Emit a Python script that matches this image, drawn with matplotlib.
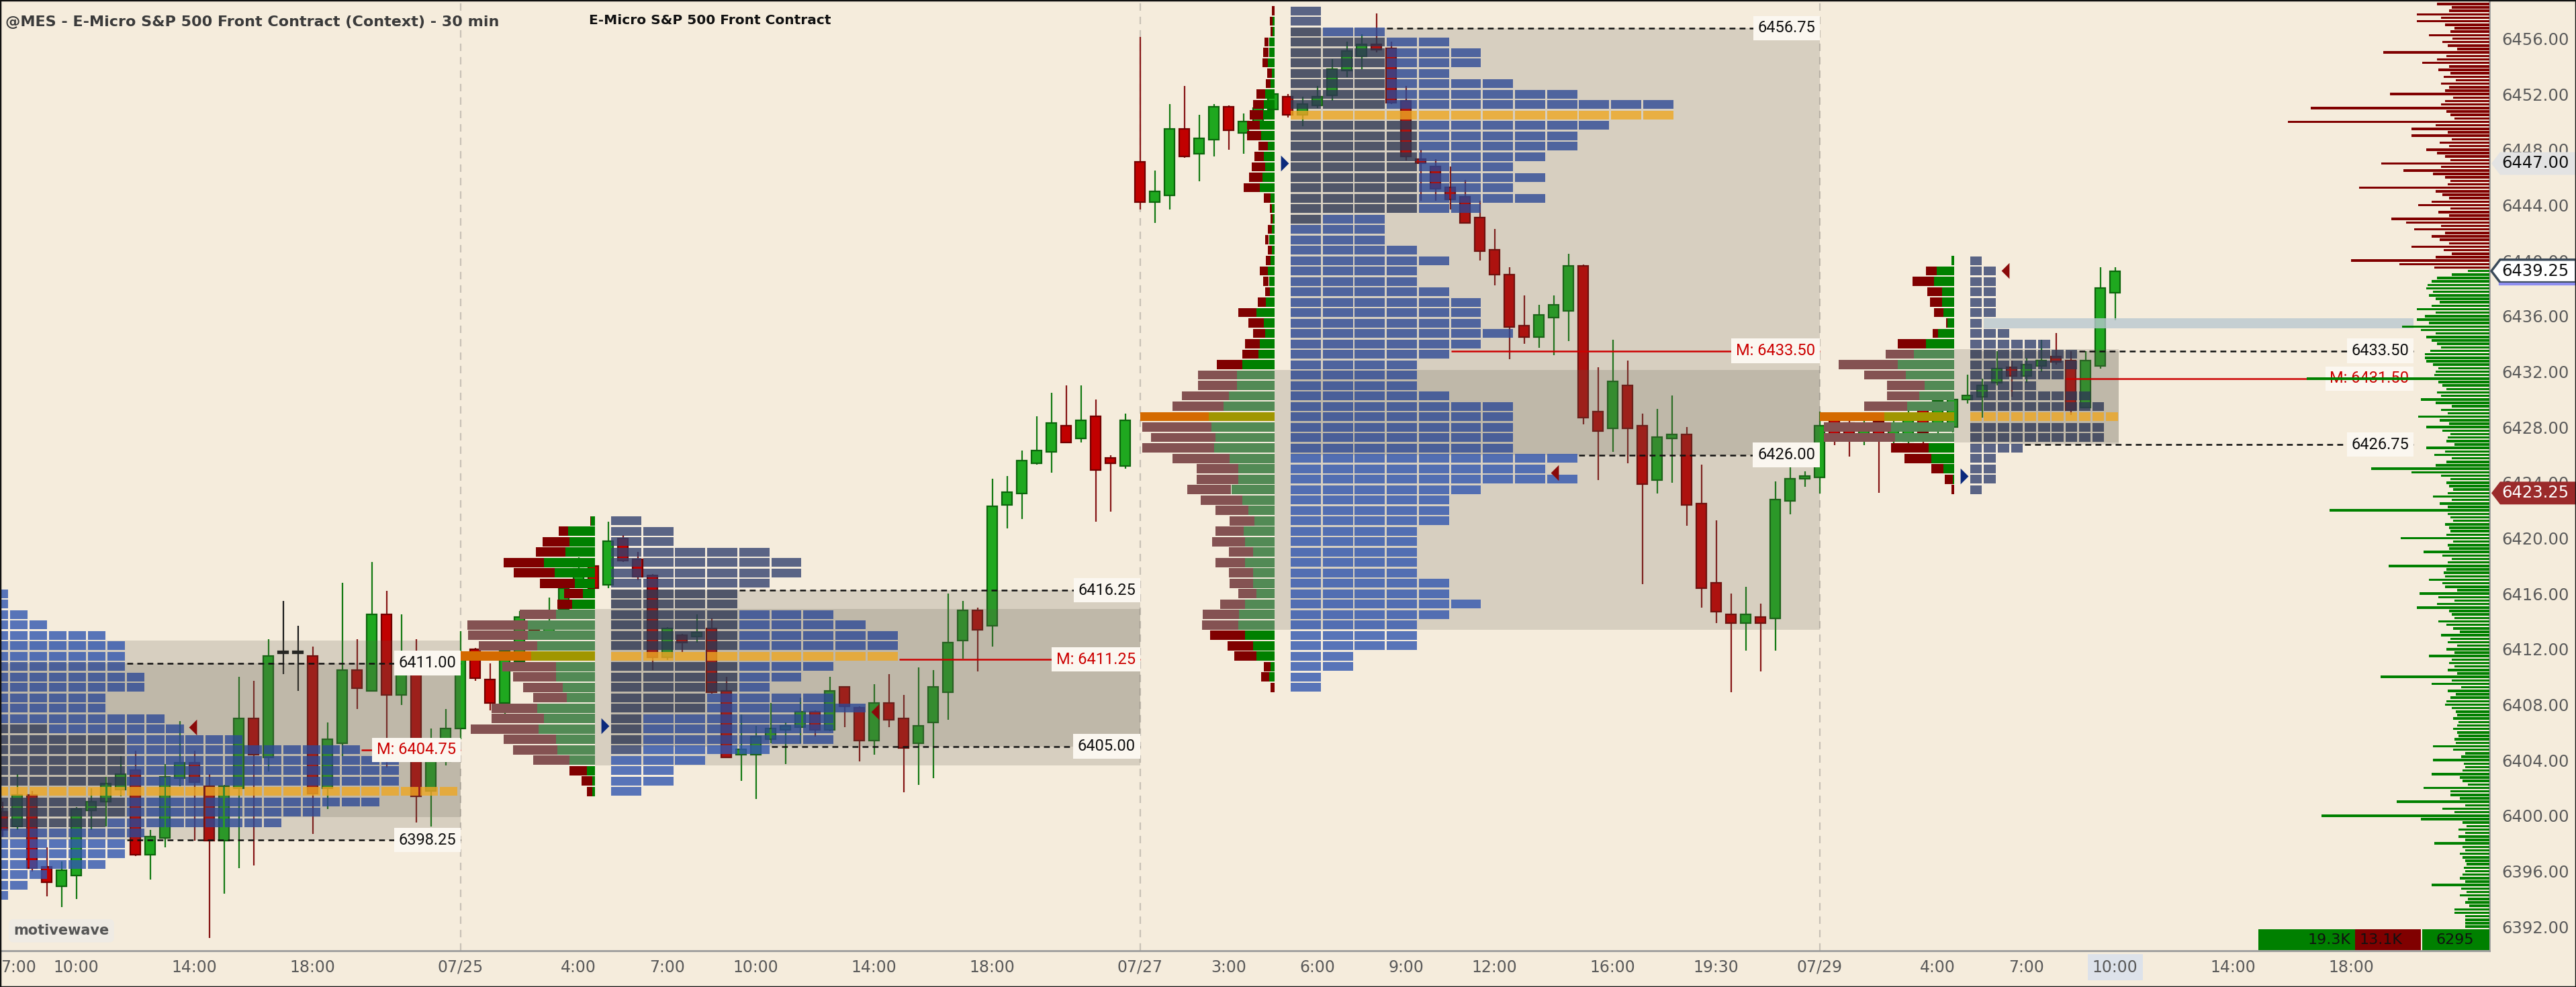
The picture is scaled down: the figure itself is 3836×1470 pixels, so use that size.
import numpy as np
import matplotlib
matplotlib.use("Agg")
import matplotlib.pyplot as plt
import matplotlib.transforms as mtransforms
from matplotlib.patches import Rectangle, Polygon
from matplotlib.path import Path

# ---------------- data ----------------
symbol_title = "@MES - E-Micro S&P 500 Front Contract (Context) - 30 min"
study_title = "E-Micro S&P 500 Front Contract"

session_dates = ["07/24", "07/25", "07/27", "07/29"]
bars_per_session = 46          # 00:00 .. 22:30, 30 min bars
first_bar_time = (0, "7:30")   # first visible candle

opens = [6400.3, 6399.2, 6401.5, 6396.3, 6394.9,
         6395.7, 6400.4, 6401.0, 6401.9, 6403.3, 6397.2, 6398.4, 6402.7, 6403.8, 6402.1,
         6398.2, 6402.0, 6407.0, 6404.2, 6411.7, 6411.7, 6411.5, 6402.0, 6405.2, 6410.5,
         6409.0, 6414.5, 6408.7, 6410.5, 6401.8, 6403.9, 6406.3, 6412.0, 6409.8, 6408.1,
         6411.1, 6413.9, 6412.9, 6414.9, 6417.0, 6418.0, 6416.65, 6420.0, 6418.5, 6417.3,
         6411.4, 6413.0, 6412.9, 6413.5, 6409.0, 6404.4, 6404.4, 6405.5, 6406.2, 6406.4,
         6407.5, 6406.2, 6409.3, 6407.8, 6405.4, 6408.1, 6407.0, 6405.2, 6406.7, 6408.9,
         6412.6, 6414.8, 6413.7, 6422.4, 6423.2, 6425.4, 6426.2, 6428.1, 6427.2, 6428.8,
         6425.8, 6425.2, 6447.1, 6444.2, 6444.7, 6449.5, 6447.7, 6448.7, 6451.1, 6449.2,
         6450.0, 6450.9, 6451.8, 6450.5, 6451.2, 6451.9, 6453.7, 6454.7, 6455.6, 6455.3,
         6451.5, 6447.3, 6446.8, 6445.3, 6444.6, 6443.1, 6440.8, 6439.0, 6435.3, 6434.5,
         6435.9, 6436.4, 6439.6, 6429.1, 6427.9, 6431.0, 6428.1, 6424.2, 6427.2, 6427.5,
         6422.5, 6416.8, 6414.5, 6413.9, 6414.3, 6414.2, 6422.7, 6424.3, 6424.4, 6428.5,
         6428.3, 6427.3, 6428.4, 6427.5, 6427.0, 6429.2, 6427.8, 6428.0, 6430.0, 6430.2,
         6431.2, 6432.3, 6431.7, 6432.4, 6433.1, 6432.8, 6429.4, 6432.4, 6437.7]
highs = [6401.0, 6403.0, 6401.8, 6397.7, 6396.7,
         6400.6, 6402.0, 6402.8, 6404.3, 6404.7, 6399.0, 6403.7, 6406.8, 6404.7, 6403.0,
         6402.2, 6410.0, 6409.7, 6412.7, 6415.5, 6413.7, 6412.2, 6406.7, 6416.8, 6412.7,
         6418.3, 6416.2, 6414.5, 6412.7, 6406.3, 6407.7, 6413.3, 6412.1, 6411.0, 6412.2,
         6414.75, 6414.0, 6415.7, 6417.0, 6418.6, 6418.1, 6421.2, 6420.2, 6419.0, 6417.4,
         6413.6, 6413.1, 6414.5, 6414.2, 6410.0, 6407.3, 6406.5, 6408.1, 6406.7, 6408.5,
         6407.6, 6410.0, 6409.3, 6407.9, 6409.5, 6410.2, 6408.7, 6410.7, 6410.5, 6416.0,
         6415.5, 6415.0, 6424.3, 6424.5, 6426.3, 6428.8, 6430.5, 6431.0, 6431.0, 6430.0,
         6426.0, 6429.0, 6456.1, 6446.5, 6451.3, 6452.6, 6450.5, 6451.3, 6451.2, 6450.6,
         6451.4, 6452.2, 6452.0, 6451.8, 6452.6, 6454.5, 6455.8, 6456.3, 6457.8, 6455.8,
         6452.6, 6448.0, 6447.3, 6446.8, 6445.8, 6444.3, 6442.3, 6439.5, 6437.5, 6436.8,
         6437.5, 6440.5, 6439.7, 6432.3, 6434.3, 6432.8, 6429.0, 6429.3, 6430.3, 6428.0,
         6425.3, 6421.3, 6416.0, 6416.5, 6415.3, 6424.1, 6425.2, 6424.8, 6429.1, 6428.9,
         6428.6, 6428.6, 6428.7, 6428.6, 6429.6, 6429.8, 6430.2, 6430.4, 6431.8, 6431.5,
         6433.5, 6432.8, 6433.0, 6434.3, 6434.8, 6433.5, 6433.5, 6439.5, 6439.5]
lows = [6398.5, 6399.0, 6396.0, 6394.2, 6393.4,
        6394.0, 6399.0, 6399.2, 6401.4, 6397.1, 6395.4, 6397.7, 6402.1, 6398.2, 6391.2,
        6394.4, 6396.2, 6396.4, 6403.2, 6410.2, 6409.0, 6398.7, 6400.5, 6404.3, 6407.7,
        6409.0, 6403.5, 6408.0, 6399.5, 6399.2, 6403.6, 6405.5, 6409.7, 6407.6, 6407.3,
        6410.6, 6412.9, 6412.8, 6414.6, 6416.8, 6416.3, 6416.4, 6418.3, 6417.0, 6410.5,
        6411.2, 6411.8, 6412.5, 6408.8, 6404.2, 6402.5, 6401.2, 6405.2, 6403.7, 6405.2,
        6405.7, 6406.1, 6406.4, 6403.9, 6404.4, 6406.4, 6401.7, 6402.2, 6402.7, 6406.9,
        6411.3, 6410.4, 6412.2, 6420.7, 6421.4, 6425.3, 6424.7, 6426.9, 6426.9, 6421.2,
        6421.9, 6425.0, 6443.7, 6442.7, 6443.7, 6447.4, 6445.7, 6447.5, 6448.0, 6447.7,
        6449.6, 6450.6, 6450.3, 6449.7, 6451.0, 6451.5, 6453.2, 6453.8, 6455.0, 6451.3,
        6447.2, 6444.3, 6444.3, 6443.7, 6442.7, 6440.0, 6438.2, 6432.9, 6434.0, 6433.7,
        6433.2, 6434.2, 6428.2, 6424.2, 6426.2, 6425.4, 6416.7, 6423.2, 6424.0, 6420.9,
        6415.0, 6413.9, 6408.9, 6411.9, 6410.4, 6411.9, 6421.7, 6423.7, 6423.2, 6426.7,
        6425.9, 6426.7, 6423.25, 6426.8, 6426.8, 6426.8, 6427.0, 6427.6, 6429.7, 6428.7,
        6431.0, 6430.2, 6431.2, 6432.0, 6432.5, 6428.9, 6429.4, 6432.2, 6435.7]
closes = [6399.0, 6401.5, 6396.2, 6395.2, 6396.1,
          6400.5, 6401.0, 6402.3, 6403.0, 6397.2, 6398.5, 6402.8, 6403.8, 6402.4, 6398.2,
          6402.1, 6407.0, 6404.4, 6411.5, 6411.7, 6411.7, 6401.6, 6405.5, 6410.5, 6409.2,
          6414.5, 6408.7, 6410.5, 6401.4, 6403.9, 6406.3, 6411.6, 6409.9, 6408.1, 6411.9,
          6414.3, 6413.4, 6413.6, 6416.4, 6417.8, 6416.4, 6419.8, 6418.4, 6417.2, 6411.4,
          6413.5, 6412.5, 6413.2, 6408.9, 6404.2, 6404.8, 6405.7, 6406.3, 6406.5, 6407.5,
          6406.2, 6409.0, 6407.9, 6405.4, 6408.1, 6406.9, 6404.9, 6406.5, 6409.3, 6412.5,
          6414.8, 6413.4, 6422.3, 6423.3, 6425.6, 6426.3, 6428.3, 6426.9, 6428.5, 6424.9,
          6425.4, 6428.5, 6444.2, 6445.0, 6449.5, 6447.5, 6448.8, 6451.1, 6449.4, 6450.0,
          6451.0, 6452.0, 6450.5, 6451.3, 6451.8, 6453.8, 6455.1, 6455.6, 6455.2, 6451.4,
          6447.5, 6447.0, 6445.2, 6444.4, 6442.7, 6440.7, 6439.0, 6435.2, 6434.5, 6436.1,
          6436.8, 6439.6, 6428.7, 6427.7, 6431.3, 6427.9, 6423.9, 6427.3, 6427.5, 6422.4,
          6416.4, 6414.7, 6413.9, 6414.5, 6413.9, 6422.8, 6424.3, 6424.5, 6428.1, 6427.5,
          6427.3, 6428.2, 6427.2, 6428.0, 6429.0, 6427.6, 6429.9, 6430.0, 6430.3, 6431.0,
          6432.2, 6431.7, 6432.5, 6432.8, 6432.7, 6429.2, 6432.8, 6438.0, 6439.25]

# time axis labels (session, time); "0:00" shows the session date
tick_times = [(0, "7:00"), (0, "10:00"), (0, "14:00"), (0, "18:00"),
              (1, "0:00"), (1, "4:00"), (1, "7:00"), (1, "10:00"), (1, "14:00"), (1, "18:00"),
              (2, "0:00"), (2, "3:00"), (2, "6:00"), (2, "9:00"), (2, "12:00"), (2, "16:00"), (2, "19:30"),
              (3, "0:00"), (3, "4:00"), (3, "7:00"), (3, "10:00"), (3, "14:00"), (3, "18:00")]

# TPO profiles (rows of 0.75 pt, listed from the top row down)
tpo_top = [6416.0, 6421.25, 6458.0, 6440.0]
tpo_counts = [
    [4, 4, 5, 6, 9, 10, 10, 10, 11, 11, 9, 9, 12, 13, 16, 22, 24, 24, 24, 27, 23, 20, 18, 11, 10, 10, 9, 6, 5, 4],
    [1, 2, 2, 5, 6, 6, 5, 4, 4, 7, 8, 9, 9, 9, 7, 6, 5, 7, 8, 7, 7, 7, 5, 3, 2, 2, 1],
    [1, 1, 3, 5, 6, 6, 5, 7, 9, 12, 12, 10, 9, 9, 8, 7, 8, 7, 8, 6,
     3, 3, 3, 4, 5, 4, 4, 5, 6, 6, 6, 7, 6, 5, 4, 4, 4, 5, 7, 7,
     7, 7, 7, 9, 8, 9, 6, 5, 5, 5, 4, 4, 4, 4, 4, 5, 5, 6, 5, 4, 4, 4, 2, 2, 1, 1],
    [1, 2, 2, 2, 2, 2, 1, 3, 6, 8, 8, 7, 5, 9, 10, 11, 10, 10, 4, 2, 2, 2, 1],
]
# overnight (ETH) periods per row
tpo_eth = [
    [3] * 13 + [6, 10, 10, 10, 10, 10, 0, 10, 10, 9] + [3] * 7,
    [1, 2, 2, 5, 6, 6, 5, 4, 4, 4, 4, 4, 4, 0, 4, 4, 4, 3, 3, 1, 1, 1, 1, 0, 0, 0, 0],
    [1, 1, 1, 3, 3, 3, 3, 3, 3, 3, 0, 4, 4, 4, 4, 4, 4, 4, 4, 4, 1] + [0] * 45,
    [1, 2, 2, 2, 2, 2, 1, 3, 6, 8, 8, 7, 5, 9, 10, 11, 10, 10, 4, 2, 2, 2, 1],
]
tpo_poc = [6401.75, 6411.5, 6450.5, 6428.75]

# split volume profiles (sell | buy), same rows; 07/24 profile is off screen
vol_top = [None, 6421.25, 6458.0, 6440.0]
vol_total = [
    None,
    [10, 77, 111, 125, 193, 171, 116, 65, 79, 159, 270, 268, 245, 284, 196, 173, 151, 131,
     219, 219, 262, 193, 173, 131, 54, 28, 17],
    [6, 10, 9, 21, 24, 26, 16, 18, 38, 46, 52, 58, 58, 34, 42, 48, 54, 66, 22, 10,
     8, 14, 20, 14, 18, 32, 24, 20, 36, 77, 55, 46, 63, 69, 123, 163, 163, 197, 217, 286,
     282, 263, 282, 217, 166, 166, 186, 157, 126, 95, 126, 132, 97, 126, 97, 95, 77, 115, 152, 154,
     137, 100, 86, 23, 29, 9],
    [8, 94, 138, 89, 80, 67, 26, 71, 188, 228, 385, 300, 224, 224, 300, 449, 434, 434, 210, 165, 76, 31, 9],
]
vol_buy = [
    None,
    [8, 57, 54, 62, 108, 85, 42, 25, 48, 82, 142, 142, 122, 134, 82, 82, 68, 59,
     122, 108, 119, 82, 79, 54, 17, 5, 5],
    [0, 4, 4, 12, 12, 14, 6, 8, 20, 22, 24, 32, 29, 14, 22, 20, 26, 32, 9, 5,
     4, 6, 12, 6, 8, 14, 12, 10, 18, 38, 23, 20, 32, 34, 68, 80, 80, 97, 109, 140,
     134, 126, 128, 95, 77, 77, 92, 69, 55, 43, 66, 63, 46, 63, 46, 46, 38, 63, 75, 77,
     63, 46, 38, 9, 12, 0],
    [8, 58, 67, 40, 40, 35, 22, 53, 94, 134, 188, 161, 98, 116, 156, 233, 210, 197, 85, 76, 35, 4, 0],
]
vol_poc = [None, 6411.5, 6428.75, 6428.75]

# value areas and range midpoints
va_tpo = [(6411.00, 6398.25), (6416.25, 6405.00), (6456.75, 6426.00), (6433.50, 6426.75)]
va_vol = [(6412.625, 6399.875), (6414.875, 6403.625), (6432.125, 6413.375), (6433.625, 6426.875)]
mid_price = [6404.75, 6411.25, 6433.50, 6431.50]
open_price = [None, 6406.5, 6447.0, 6424.5]
close_price = [6406.4, 6407.5, 6424.7, 6439.3]
single_zone = (6435.10, 6435.85)

# composite volume profile (0.25 pt levels, from 6458.75 down)
comp_top = 6458.75
comp_vol = [210, 78, 56, 60, 108, 72, 108, 66, 52, 58, 90, 55, 70, 62, 48, 158,
            64, 78, 100, 60, 76, 58, 68, 50, 72, 60, 66, 148, 54, 66, 72, 266,
            64, 58, 52, 300, 80, 116, 62, 116, 56, 74, 60, 94, 78, 66, 58, 161,
            72, 128, 84, 66, 58, 62, 194, 80, 70, 60, 86, 106, 58, 76, 60, 146,
            124, 72, 112, 66, 86, 74, 60, 116, 68, 56, 80, 206, 134, 82, 32, 56,
            78, 86, 92, 94, 84, 90, 80, 74, 86, 108, 80, 96, 108, 90, 130, 102,
            80, 94, 86, 78, 72, 88, 96, 96, 94, 84, 76, 80, 82, 272, 76, 70,
            64, 78, 72, 102, 80, 56, 72, 62, 106, 74, 60, 94, 70, 58, 62, 64,
            52, 94, 66, 82, 56, 64, 80, 176, 116, 72, 58, 64, 60, 54, 62, 84,
            56, 74, 62, 238, 62, 58, 54, 66, 60, 58, 64, 132, 54, 62, 60, 98,
            70, 56, 62, 150, 64, 68, 66, 90, 70, 66, 48, 104, 76, 52, 78, 108,
            60, 56, 52, 76, 64, 54, 44, 72, 58, 62, 48, 64, 52, 90, 56, 60,
            52, 62, 48, 162, 56, 86, 42, 62, 50, 58, 64, 66, 56, 50, 48, 54,
            46, 48, 54, 48, 46, 52, 50, 84, 54, 36, 42, 84, 38, 36, 40, 86,
            44, 40, 32, 98, 58, 58, 44, 138, 36, 70, 52, 250, 102, 40, 34, 46,
            36, 46, 36, 82, 40, 36, 44, 40, 36, 34, 38, 36, 40, 44, 36, 86,
            42, 34, 44, 32, 36, 30, 52, 52, 36, 36, 36, 36, 30]
buy_volume = 19300
sell_volume = 13100
delta_value = 6295

axis_tags = [(6447.00, "prev"), (6439.25, "last"), (6423.25, "low")]

# ---------------- layout / style ----------------
W, H, DPI = 3836, 1470, 100
PLOT_W, PLOT_H = 3707, 1416
BAR_PX = 22.0
ROW = 0.75
TPO_OFFSET = 10.2
SPLIT_W = 9.1
tpo_cell = [1.323, 2.168, 2.168, 0.919]
BG = "#f5ecdc"

plt.rcParams["font.family"] = ["DejaVu Sans"]

first_session_bar = -20
sess_start = [first_session_bar + bars_per_session * k for k in range(len(session_dates))]


def bar_of(s, t):
    hh, mm = map(int, t.split(":"))
    return sess_start[s] + (hh * 60 + mm) // 30


fig = plt.figure(figsize=(W / DPI, H / DPI), dpi=DPI, facecolor=BG)
ax = fig.add_axes([0, 1 - PLOT_H / H, PLOT_W / W, PLOT_H / H])
ax.set_facecolor(BG)
x_left = -113.7 / BAR_PX
x_right = x_left + PLOT_W / BAR_PX
ax.set_xlim(x_left, x_right)
ax.set_ylim(6390.27, 6458.78)

# candles
o, h, l, c = map(np.array, (opens, highs, lows, closes))
idx = bar_of(*first_bar_time) + np.arange(len(o))
groups = [(c > o, "#1fa81f", "#0c650c", "#137a13"),
          (c < o, "#c10000", "#720000", "#861515"),
          (c == o, "#1a1a1a", "#1a1a1a", "#1a1a1a")]
for m, face, edge, wick in groups:
    ax.vlines(idx[m], l[m], h[m], color=wick, lw=1.6, zorder=2)
    ax.bar(idx[m], np.maximum(np.abs(c - o), 0.14)[m], bottom=np.minimum(o, c)[m], width=0.68,
           color=face, edgecolor=edge, linewidth=1.6, zorder=2.1)

# session separators
for s in range(1, len(session_dates)):
    ax.axvline(sess_start[s], color="#c8c1b6", lw=1.6, ls=(0, (5, 4)), zorder=1)

sess_end = [sess_start[s + 1] for s in range(len(session_dates) - 1)] + [idx[-1] + 0.25]
label_end = [sess_start[s + 1] for s in range(len(session_dates) - 1)] + [158.2]

SHADE = "#5f5c50"
for s in range(len(session_dates)):
    x0 = sess_start[s] + TPO_OFFSET
    hi, lo = va_tpo[s]
    ax.add_patch(Rectangle((x0, lo), sess_end[s] - x0, hi - lo, fc=SHADE, alpha=0.2, lw=0, zorder=2.5))
    x1 = sess_start[s] + SPLIT_W
    hi, lo = va_vol[s]
    ax.add_patch(Rectangle((x1, lo), sess_end[s] - x1, hi - lo, fc=SHADE, alpha=0.2, lw=0, zorder=2.5))

# TPO cells
ETH_OUT, ETH_IN, RTH_IN, RTH_OUT, POC_CELL = "#33426f", "#2e3854", "#2d4996", "#3156af", "#eea723"
for s in range(len(session_dates)):
    x0 = sess_start[s] + TPO_OFFSET
    cw = tpo_cell[s]
    ys, lefts, cols = [], [], []
    for k, (n, ne) in enumerate(zip(tpo_counts[s], tpo_eth[s])):
        p = tpo_top[s] - ROW * k
        in_va = va_tpo[s][1] <= p <= va_tpo[s][0]
        poc = abs(p - tpo_poc[s]) < 1e-6
        for j in range(n):
            if poc:
                col = POC_CELL
            elif j < ne:
                col = ETH_IN if in_va else ETH_OUT
            else:
                col = RTH_IN if in_va else RTH_OUT
            ys.append(p)
            lefts.append(x0 + j * cw)
            cols.append(col)
    ax.barh(ys, cw - 0.13, left=lefts, height=0.64, color=cols, alpha=0.8, lw=0, zorder=3)

# split volume profiles
for s in range(len(session_dates)):
    if vol_total[s] is None:
        continue
    tot = np.array(vol_total[s], float)
    buy = np.array(vol_buy[s], float)
    sc = SPLIT_W / tot.max()
    right = sess_start[s] + SPLIT_W
    ps = vol_top[s] - ROW * np.arange(len(tot))
    sell_c, buy_c = [], []
    for p in ps:
        if abs(p - vol_poc[s]) < 1e-6:
            sell_c.append("#d46a00"); buy_c.append("#a09600")
        elif va_vol[s][1] <= p <= va_vol[s][0]:
            sell_c.append("#845252"); buy_c.append("#528a55")
        else:
            sell_c.append("#800000"); buy_c.append("#008000")
    ax.barh(ps, (tot - buy) * sc, left=right - tot * sc, height=0.66, color=sell_c, lw=0, zorder=3.5)
    ax.barh(ps, buy * sc, left=right - buy * sc, height=0.66, color=buy_c, lw=0, zorder=3.5)


def row_end(s, p):
    k = int(round((tpo_top[s] - p) / ROW))
    k = min(max(k, 0), len(tpo_counts[s]) - 1)
    return sess_start[s] + TPO_OFFSET + tpo_counts[s][k] * tpo_cell[s]


def level_label(x_end, y, txt, color):
    ax.text(x_end - 0.3, y, txt, ha="right", va="center", fontsize=17, family="Roboto",
            color=color, zorder=7,
            bbox=dict(boxstyle="square,pad=0.28", fc="#fbf7f0", ec="none"))


# single print zone in current session
zs = row_end(3, sum(single_zone) / 2)
ax.add_patch(Rectangle((zs, single_zone[0]), label_end[3] - zs, single_zone[1] - single_zone[0],
                       fc="#b9c8d0", alpha=0.8, lw=0, zorder=4))

for s in range(len(session_dates)):
    for p in va_tpo[s]:
        ax.hlines(p, row_end(s, p), label_end[s], colors="#111111", lw=1.8, ls=(0, (3.5, 2.5)), zorder=6)
        level_label(label_end[s], p, f"{p:.2f}", "#111111")
    m = mid_price[s]
    ax.hlines(m, row_end(s, m), label_end[s], colors="#cc0000", lw=1.8, zorder=6)
    level_label(label_end[s], m, f"M: {m:.2f}", "#cc0000")

# open / close markers
tri_r = Path([(-0.5, 1), (0.5, 0), (-0.5, -1), (-0.5, 1)],
             [Path.MOVETO, Path.LINETO, Path.LINETO, Path.CLOSEPOLY])
tri_l = Path([(0.5, 1), (-0.5, 0), (0.5, -1), (0.5, 1)],
             [Path.MOVETO, Path.LINETO, Path.LINETO, Path.CLOSEPOLY])
for s in range(len(session_dates)):
    if open_price[s] is not None:
        ax.plot(sess_start[s] + TPO_OFFSET - 0.42, open_price[s], marker=tri_r, ms=17,
                color="#0b2a7d", mew=0, zorder=6.5)
    ax.plot(row_end(s, close_price[s]) + 0.5, close_price[s], marker=tri_l, ms=17,
            color="#8a0a0a", mew=0, zorder=6.5)

# composite profile at the right edge
cv = np.array(comp_vol, float)
lv = comp_top - 0.25 * np.arange(len(cv))
cw_px = cv / BAR_PX
ccol = np.where(lv > closes[-1], "#800000", "#008000")
ax.barh(lv, cw_px, left=x_right - cw_px, height=0.17, color=ccol, lw=0, zorder=8)

# volume summary boxes
vb_right = x_right - 4.63
tot_w = 11.0
bw = tot_w * buy_volume / (buy_volume + sell_volume)
sw = tot_w * sell_volume / (buy_volume + sell_volume)
yb, hb = 6390.3, 1.5
ax.add_patch(Rectangle((vb_right - sw - bw, yb), bw, hb, fc="#008000", lw=0, zorder=8))
ax.add_patch(Rectangle((vb_right - sw, yb), sw, hb, fc="#800000", lw=0, zorder=8))
ax.add_patch(Rectangle((vb_right + 0.1, yb), x_right - vb_right - 0.1, hb, fc="#008000", lw=0, zorder=8))
ax.text(vb_right - sw - 0.3, yb + hb / 2, f"{buy_volume / 1000:.1f}K", ha="right", va="center",
        fontsize=16, color="#111111", zorder=9)
ax.text(vb_right - sw + 0.3, yb + hb / 2, f"{sell_volume / 1000:.1f}K", ha="left", va="center",
        fontsize=16, color="#111111", zorder=9)
ax.text((vb_right + x_right) / 2, yb + hb / 2, f"{delta_value}", ha="center", va="center",
        fontsize=16, color="#111111", zorder=9)

# axes styling
for side in ("top", "left"):
    ax.spines[side].set_visible(False)
for side in ("bottom", "right"):
    ax.spines[side].set_color("#9c9c9c")
    ax.spines[side].set_linewidth(2)
ax.yaxis.tick_right()
ax.set_yticks(np.arange(6392, 6457, 4))
ax.yaxis.set_major_formatter(plt.FuncFormatter(lambda v, _: f"{v:.2f}"))
ax.tick_params(axis="y", length=0, pad=13, labelsize=17.5, labelcolor="#5a5a5a")

tx, tl, early = [], [], []
for s, t in tick_times:
    lab = session_dates[s] if t == "0:00" else t
    if bar_of(s, t) < x_left:
        early.append(lab)          # label scrolled off to the left
    else:
        tx.append(bar_of(s, t))
        tl.append(lab)
ax.set_xticks(tx)
ax.set_xticklabels(tl)
ax.tick_params(axis="x", length=0, pad=9, labelsize=17, labelcolor="#5a5a5a")
for pos, lab in zip(tx, ax.get_xticklabels()):
    if pos == idx[-1]:
        lab.set_bbox(dict(boxstyle="square,pad=0.3", fc="#dde2ea", ec="none"))
xtrans = mtransforms.offset_copy(ax.get_xaxis_transform(), fig=fig, y=-9, units="points")
for lab in early:
    ax.text(x_left + 0.05, 0, lab, transform=xtrans, ha="left", va="top", fontsize=17,
            color="#5a5a5a", clip_on=False)

# price tags on the axis
trans = mtransforms.blended_transform_factory(ax.transAxes, ax.transData)
tag_style = {"prev": ("#e3e3e3", "#111111", "none"),
             "last": ("#ffffff", "#111111", "#3b4a5a"),
             "low": ("#9b2b2b", "#ffffff", "none")}
for y, kind in axis_tags:
    fc, tc, ec = tag_style[kind]
    xt, xb, xr, hh = 1 + 3 / PLOT_W, 1 + 16 / PLOT_W, 1 + 129 / PLOT_W, 0.82
    ax.add_patch(Polygon([(xt, y), (xb, y + hh), (xr, y + hh), (xr, y - hh), (xb, y - hh)],
                         closed=True, transform=trans, fc=fc, ec=ec, lw=2.5, clip_on=False, zorder=10))
    if kind == "last":
        ax.plot([xb, xr], [y - hh - 0.12] * 2, transform=trans, color="#8e8ef0", lw=3,
                clip_on=False, zorder=10)
    ax.text(1 + 18 / PLOT_W, y, f"{y:.2f}", transform=trans, ha="left", va="center",
            fontsize=17.5, color=tc, clip_on=False, zorder=11)

# titles and watermark
fig.text(8 / W, 1 - 33 / H, symbol_title, ha="left", va="center", fontsize=16,
         weight="bold", color="#3b3b3b")
fig.text(877 / W, 1 - 30 / H, study_title, ha="left", va="center", fontsize=14.5,
         weight="bold", color="#111111")
ax.text(0.0055, 0.021, "motivewave", transform=ax.transAxes, ha="left", va="center",
        fontsize=15, weight="bold", color="#555555", zorder=9,
        bbox=dict(boxstyle="round,pad=0.35", fc="#efebe4", ec="none"))

fig.patches.append(Rectangle((0, 0), 1, 1, transform=fig.transFigure, fill=False,
                             ec="#111111", lw=2.5))

fig.savefig("out.png", dpi=DPI, facecolor=BG)
